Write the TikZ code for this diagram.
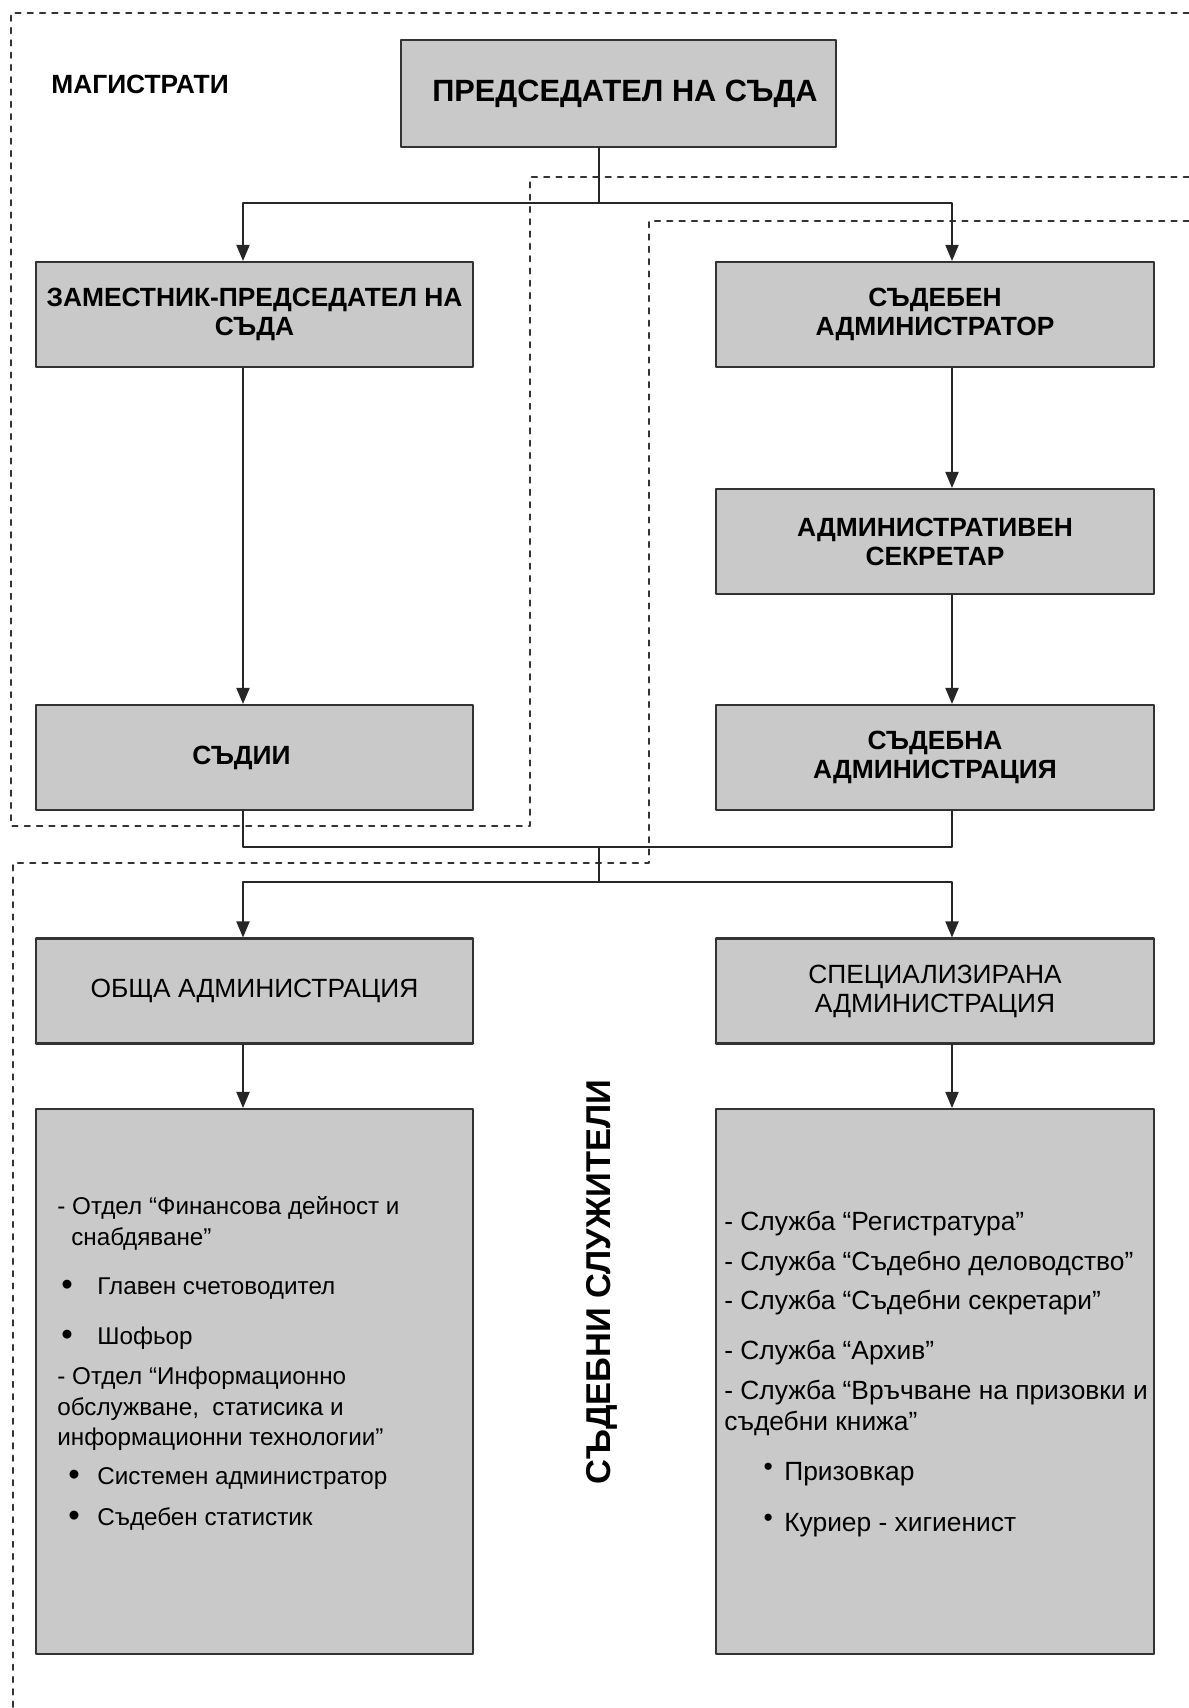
\documentclass[tikz,border=0pt]{standalone}
\usepackage{fontspec}
\setmainfont{Liberation Sans}
\usetikzlibrary{arrows}
\definecolor{cccccc}{rgb}{0.79,0.79,0.79}
\definecolor{tttttt}{rgb}{0.2,0.2,0.2}
\newcommand{\dotl}[1]{\llap{\raisebox{-0.6pt}{\scalebox{1.35}{•}}\hspace{#1}}}
\newcommand{\dotr}{\llap{\raisebox{3pt}{•}\hspace{6.5pt}}}

\begin{document}
\begin{tikzpicture}[line cap=round,line join=round,>=triangle 45,x=0.02cm,y=-0.02cm,
  unit/.style={draw=tttttt,line width=1.3pt,fill=cccccc,minimum width=8.75cm,minimum height=2.1cm,inner sep=0pt,align=center,font=\bfseries\fontsize{15}{16.5}\selectfont},
  plain/.style={unit,font=\fontsize{15}{16.5}\selectfont},
  conn/.style={line width=1.1pt,color=black!85},
  zone/.style={line width=1.2pt,color=tttttt,dash pattern=on 3pt off 4pt},
  entry/.style={anchor=mid west,inner sep=0pt,font=\fontsize{13.8}{16}\selectfont},
  sentry/.style={entry,font=\fontsize{15}{16}\selectfont}]
\useasboundingbox (0,0) rectangle (1189,1708);
% dashed zones
\draw[zone] (1189,13) -- (11,13) -- (11,826) -- (530,826) -- (530,177) -- (1189,177);
\draw[zone] (1189,221) -- (649,221) -- (649,863) -- (13,863) -- (13,1708);
% boxes
\node[unit,minimum width=8.7cm,minimum height=2.14cm,font=\bfseries\fontsize{17.5}{20}\selectfont] (pres) at (618.5,93.5) {\kern7.4pt ПРЕДСЕДАТЕЛ НА СЪДА};
\node[unit] (zam) at (254.5,314.5) {ЗАМЕСТНИК-ПРЕДСЕДАТЕЛ НА\\СЪДА};
\node[unit] (sadm) at (935,314.5) {СЪДЕБЕН\\АДМИНИСТРАТОР};
\node[unit] (sekr) at (935,541.5) {АДМИНИСТРАТИВЕН\\СЕКРЕТАР};
\node[unit] (sadii) at (254.5,757.5) {СЪДИИ\kern14.8pt};
\node[unit] (sadna) at (935,757.5) {СЪДЕБНА\\АДМИНИСТРАЦИЯ};
\node[plain] (obsh) at (254.5,991) {ОБЩА АДМИНИСТРАЦИЯ};
\node[plain] (spec) at (935,991) {СПЕЦИАЛИЗИРАНА\\АДМИНИСТРАЦИЯ};
\node[unit,minimum height=10.9cm] (olist) at (254.5,1381.5) {};
\node[unit,minimum height=10.9cm] (slist) at (935,1381.5) {};
% labels
\node[anchor=mid west,inner sep=0pt,font=\bfseries\fontsize{15}{16}\selectfont] (mag) at (51,89) {МАГИСТРАТИ};
\node[rotate=90,inner sep=0pt,font=\bfseries\fontsize{19.6}{24}\selectfont] (sluzh) at (602,1282) {СЪДЕБНИ СЛУЖИТЕЛИ};
% connectors
\coordinate (jtop) at (599,203);
\coordinate (jmid) at (599,847);
\coordinate (jbot) at (599,882);
\coordinate (lx) at (243,0);
\coordinate (rx) at (952,0);
\draw[conn] (pres.south -| jtop) -- (jtop);
\draw[conn,->] (jtop) -| (zam.north -| lx);
\draw[conn,->] (jtop) -| (sadm.north -| rx);
\draw[conn,->] (zam.south -| lx) -- (sadii.north -| lx);
\draw[conn,->] (sadm.south -| rx) -- (sekr.north -| rx);
\draw[conn,->] (sekr.south -| rx) -- (sadna.north -| rx);
\draw[conn] (sadii.south -| lx) |- (jmid) -| (sadna.south -| rx);
\draw[conn] (jmid) -- (jbot);
\draw[conn,->] (jbot) -| (obsh.north -| lx);
\draw[conn,->] (jbot) -| (spec.north -| rx);
\draw[conn,->] (obsh.south -| lx) -- (olist.north -| lx);
\draw[conn,->] (spec.south -| rx) -- (slist.north -| rx);
% general administration
\node[entry] (fin) at (57,1210) {- Отдел “Финансова дейност и};
\node[entry] (fin2) at (71,1241) {снабдяване”};
\node[entry] (glav) at (97,1290) {\dotl{14pt}Главен счетоводител};
\node[entry] (shof) at (97,1340) {\dotl{14pt}Шофьор};
\node[entry] (info) at (57,1380) {- Отдел “Информационно};
\node[entry] (info2) at (57,1411) {обслужване,\ \ статисика и};
\node[entry] (info3) at (57,1441) {информационни технологии”};
\node[entry] (sysadm) at (97,1480) {\dotl{10pt}Системен администратор};
\node[entry] (stat) at (97,1521) {\dotl{10pt}Съдебен статистик};
% specialised administration
\node[sentry] (reg) at (724,1226) {- Служба “Регистратура”};
\node[sentry] (delo) at (724,1266) {- Служба “Съдебно деловодство”};
\node[sentry] (sekrs) at (724,1305) {- Служба “Съдебни секретари”};
\node[sentry] (arhiv) at (724,1355) {- Служба “Архив”};
\node[sentry] (vrach) at (724,1395) {- Служба “Връчване на призовки и};
\node[sentry] (vrach2) at (724,1426) {съдебни книжа”};
\node[sentry] (prizov) at (784,1476) {\dotr Призовкар};
\node[sentry] (kurier) at (784,1527) {\dotr Куриер - хигиенист};
\end{tikzpicture}
\end{document}
